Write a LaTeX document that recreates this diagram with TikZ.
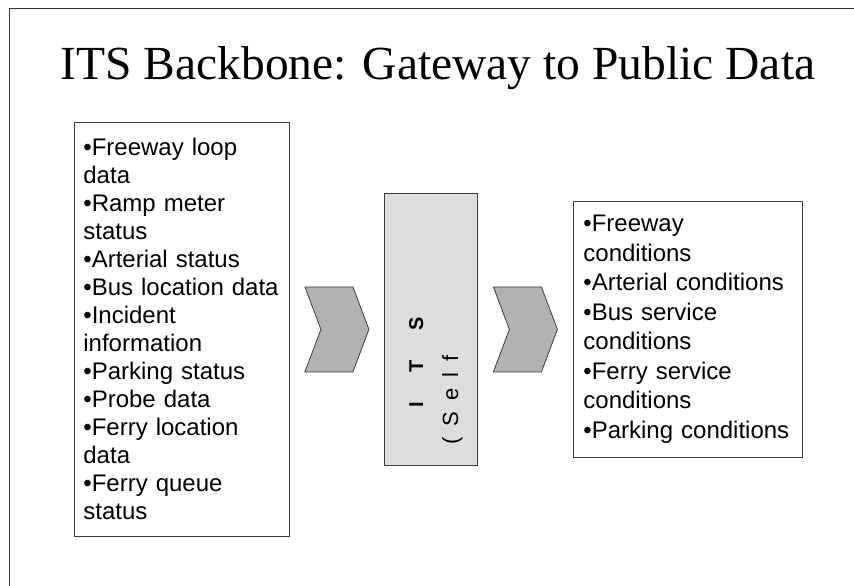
\documentclass[tikz,border=0pt]{standalone}
\usepackage{fontspec}
\setmainfont{Liberation Serif}
\setsansfont{Liberation Sans}
\usetikzlibrary{positioning,calc}
\definecolor{chevgray}{RGB}{178,178,178}
\definecolor{boxgray}{RGB}{221,221,221}
\definecolor{edgegray}{RGB}{60,60,60}
\tikzset{
  frameln/.style={line width=1pt, black!80},
  titletxt/.style={font=\fontsize{47.5}{52}\selectfont, inner sep=0pt, anchor=base},
  listbox/.style={draw=edgegray, line width=0.8pt, anchor=north west, align=left,
    inner xsep=9pt, inner ysep=0pt, font=\sffamily\fontsize{24}{28}\selectfont},
  itsbox/.style={draw=edgegray, fill=boxgray, line width=0.8pt, anchor=north west,
    minimum width=93pt, minimum height=272pt, inner sep=0pt},
  vtxt/.style={rotate=90, anchor=base west, inner sep=0pt, font=\sffamily},
  chev/.style={draw=edgegray, fill=chevgray, line width=0.8pt, line join=miter},
}
\newcommand{\chevron}[2]{% name, centre
  \coordinate (#1) at #2;
  \draw[chev] (#1) ++(-32,-42.5) -- ++(48,0) -- ++(16,42.5) -- ++(-16,42.5)
    -- ++(-48,0) -- ++(16,-42.5) -- cycle;
}
\newcommand{\lsp}{\hspace{11pt}}

\begin{document}
\begin{tikzpicture}[x=1pt, y=-1pt]
    \useasboundingbox (0,0) rectangle (854,586);
    % slide frame
    \draw[frameln] (9.5,586) -- (9.5,8.5) -- (854,8.5);
    \node[titletxt] (title) at (438,79) {ITS Backbone: Gateway to Public Data};
    % input list
    \node[listbox, text width=197pt, minimum height=414pt] (inbox) at (74,122)
      {•Freeway loop\\data\\•Ramp meter\\status\\•Arterial status\\•Bus location data\\
       •Incident\\information\\•Parking status\\•Probe data\\•Ferry location\\data\\
       •Ferry queue\\status};
    % backbone
    \node[itsbox] (its) at (384,193) {};
    \node[vtxt, font=\sffamily\bfseries\fontsize{20}{24}\selectfont] (itsA) at (423,408)
      {I\hspace{30pt}T\hspace{30pt}S};
    \node[vtxt, font=\sffamily\fontsize{22}{26}\selectfont] (itsB) at (458,445)
      {(\lsp S\lsp e\lsp l\lsp f};
    % output list
    \node[listbox, inner xsep=10pt, text width=209pt, minimum height=256pt,
      font=\sffamily\fontsize{24}{29.5}\selectfont] (outbox) at (573,201)
      {•Freeway\\conditions\\•Arterial conditions\\•Bus service\\conditions\\
       •Ferry service\\conditions\\•Parking conditions};
    % chevrons
    \chevron{chevin}{($(inbox.east)!0.5!(its.west)$)}
    \chevron{chevout}{($(its.east)!0.5!(outbox.west)$)}
  \end{tikzpicture}
\end{document}
